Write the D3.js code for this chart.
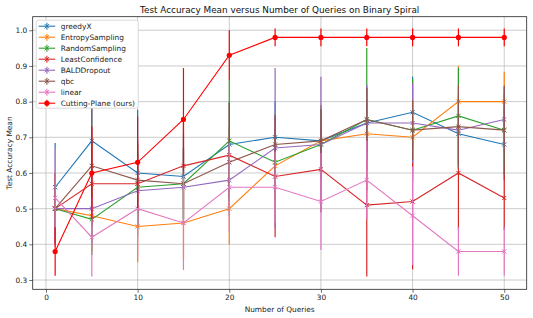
<!DOCTYPE html>
<html>
<head>
<meta charset="utf-8">
<script src="https://cdn.jsdelivr.net/npm/d3@7"></script>
<style>
  body { margin: 0; background: #fff; }
  svg { font-family: "DejaVu Sans", sans-serif; }
</style>
</head>
<body>
<svg width="533" height="318"></svg>
<script>
const queries = [1, 5, 10, 15, 20, 25, 30, 35, 40, 45, 50];
const seriesNames = ["greedyX", "EntropySampling", "RandomSampling", "LeastConfidence",
  "BALDDropout", "qbc", "linear", "Cutting-Plane (ours)"];
const seriesColors = ["#1f77b4", "#ff7f0e", "#2ca02c", "#d62728", "#9467bd", "#8c564b", "#e377c2", "#ff0000"];

const greedyX = [0.56, 0.69, 0.60, 0.59, 0.68, 0.70, 0.69, 0.74, 0.77, 0.71, 0.68];
const greedyXStd = [0.124, 0.10, 0.177, 0.12, 0.12, 0.10, 0.10, 0.10, 0.10, 0.10, 0.10];
const entropy = [0.50, 0.48, 0.45, 0.46, 0.50, 0.62, 0.69, 0.71, 0.70, 0.80, 0.80];
const entropyStd = [0.10, 0.10, 0.10, 0.10, 0.10, 0.10, 0.10, 0.10, 0.10, 0.10, 0.084];
const random = [0.50, 0.47, 0.56, 0.57, 0.69, 0.63, 0.68, 0.75, 0.72, 0.76, 0.72];
const randomStd = [0.10, 0.10, 0.10, 0.10, 0.17, 0.10, 0.10, 0.20, 0.143, 0.135, 0.10];
const leastConf = [0.50, 0.57, 0.57, 0.62, 0.65, 0.59, 0.61, 0.51, 0.52, 0.60, 0.53];
const leastConfStd = [0.10, 0.12, 0.12, 0.12, 0.146, 0.17, 0.12, 0.20, 0.19, 0.16, 0.09];
const bald = [0.50, 0.50, 0.55, 0.56, 0.58, 0.67, 0.68, 0.74, 0.74, 0.72, 0.75];
const baldStd = [0.10, 0.10, 0.10, 0.10, 0.10, 0.224, 0.19, 0.107, 0.112, 0.10, 0.09];
const qbc = [0.50, 0.62, 0.58, 0.57, 0.63, 0.68, 0.69, 0.75, 0.72, 0.73, 0.72];
const qbcStd = [0.10, 0.166, 0.10, 0.10, 0.10, 0.083, 0.087, 0.088, 0.084, 0.117, 0.125];
const linear = [0.53, 0.42, 0.50, 0.46, 0.56, 0.56, 0.52, 0.58, 0.48, 0.38, 0.38];
const linearStd = [0.137, 0.11, 0.14, 0.132, 0.125, 0.10, 0.136, 0.11, 0.138, 0.068, 0.068];
const cutting = [0.38, 0.60, 0.63, 0.75, 0.93, 0.98, 0.98, 0.98, 0.98, 0.98, 0.98];
const cuttingStd = [0.068, 0.13, 0.128, 0.144, 0.07, 0.025, 0.025, 0.025, 0.025, 0.025, 0.025];

const yTicks = [0.3, 0.4, 0.5, 0.6, 0.7, 0.8, 0.9, 1.0];
const xTicks = [0, 10, 20, 30, 40, 50];

const allMeans = [greedyX, entropy, random, leastConf, bald, qbc, linear, cutting];
const allStds = [greedyXStd, entropyStd, randomStd, leastConfStd, baldStd, qbcStd, linearStd, cuttingStd];

const svg = d3.select('svg');
const margin = { top: 16.7, right: 6.3, bottom: 28.7, left: 32.7 };
const width = +svg.attr('width');
const height = +svg.attr('height');
const innerWidth = width - margin.left - margin.right;
const innerHeight = height - margin.top - margin.bottom;
const labelSize = 7.4;

const xScale = d3.scaleLinear().domain([-1.45, 52.45]).range([0, innerWidth]);
const yScale = d3.scaleLinear().domain([0.274, 1.038]).range([innerHeight, 0]);

const g = svg.append('g').attr('transform', `translate(${margin.left},${margin.top})`);

// axes
const xAxisG = g.append('g')
  .attr('transform', `translate(0,${innerHeight})`)
  .call(d3.axisBottom(xScale).tickValues(xTicks).tickSize(3.5).tickPadding(2));
const yAxisG = g.append('g')
  .call(d3.axisLeft(yScale).tickValues(yTicks).tickFormat(d3.format('.1f')).tickSize(3.5).tickPadding(2));
[xAxisG, yAxisG].forEach(ax => {
  ax.select('.domain').remove();
  ax.attr('font-family', 'DejaVu Sans');
  ax.selectAll('text').attr('font-size', labelSize).attr('fill', '#222');
  ax.selectAll('line').attr('stroke', '#333').attr('stroke-width', 0.7);
});

// grid
g.append('g').selectAll('line').data(xTicks).enter().append('line')
  .attr('x1', d => xScale(d)).attr('x2', d => xScale(d))
  .attr('y1', 0).attr('y2', innerHeight)
  .attr('stroke', '#b0b0b0').attr('stroke-width', 0.8).attr('opacity', 0.8);
g.append('g').selectAll('line').data(yTicks).enter().append('line')
  .attr('x1', 0).attr('x2', innerWidth)
  .attr('y1', d => yScale(d)).attr('y2', d => yScale(d))
  .attr('stroke', '#b0b0b0').attr('stroke-width', 0.8).attr('opacity', 0.8);

// series
const lineGen = d3.line().x(d => xScale(d.x)).y(d => yScale(d.y));
const xMark = 2.1;

allMeans.forEach((means, si) => {
  const color = seriesColors[si];
  const pts = queries.map((q, i) => ({ x: q, y: means[i], s: allStds[si][i] }));
  const sg = g.append('g');
  sg.selectAll('line.err').data(pts).enter().append('line')
    .attr('class', 'err')
    .attr('x1', d => xScale(d.x)).attr('x2', d => xScale(d.x))
    .attr('y1', d => yScale(d.y - d.s)).attr('y2', d => yScale(d.y + d.s))
    .attr('stroke', color).attr('stroke-width', 1.2);
  sg.append('path').datum(pts)
    .attr('d', lineGen)
    .attr('fill', 'none').attr('stroke', color).attr('stroke-width', 1.1);
  if (si === 7) {
    sg.selectAll('circle').data(pts).enter().append('circle')
      .attr('cx', d => xScale(d.x)).attr('cy', d => yScale(d.y))
      .attr('r', 2.6).attr('fill', color);
  } else {
    sg.selectAll('path.mk').data(pts).enter().append('path')
      .attr('class', 'mk')
      .attr('d', d => {
        const cx = xScale(d.x), cy = yScale(d.y);
        return `M${cx - xMark},${cy - xMark}L${cx + xMark},${cy + xMark}M${cx - xMark},${cy + xMark}L${cx + xMark},${cy - xMark}`;
      })
      .attr('stroke', color).attr('stroke-width', 1);
  }
});

// frame
g.append('rect').attr('x', 0).attr('y', 0).attr('width', innerWidth).attr('height', innerHeight)
  .attr('fill', 'none').attr('stroke', '#222').attr('stroke-width', 0.8);

// legend
const legendX = 3.5, legendY = 3.5;
g.append('rect').attr('x', legendX).attr('y', legendY).attr('width', 102).attr('height', 88).attr('rx', 2)
  .attr('fill', '#fff').attr('stroke', '#d0d0d0').attr('stroke-width', 0.8);
seriesNames.forEach((name, i) => {
  const y = legendY + 6 + i * 11;
  const color = seriesColors[i];
  const hx = legendX + 10.7;
  g.append('line').attr('x1', legendX + 2.5).attr('x2', legendX + 19).attr('y1', y).attr('y2', y)
    .attr('stroke', color).attr('stroke-width', 1.1);
  g.append('line').attr('x1', hx).attr('x2', hx).attr('y1', y - 3.5).attr('y2', y + 3.5)
    .attr('stroke', color).attr('stroke-width', 1.1);
  if (i === 7) {
    g.append('circle').attr('cx', hx).attr('cy', y).attr('r', 2.6).attr('fill', color);
  } else {
    g.append('path')
      .attr('d', `M${hx - xMark},${y - xMark}L${hx + xMark},${y + xMark}M${hx - xMark},${y + xMark}L${hx + xMark},${y - xMark}`)
      .attr('stroke', color).attr('stroke-width', 1);
  }
});
svg.append('g').selectAll('text').data(seriesNames).enter().append('text')
  .attr('x', margin.left + legendX + 24.5)
  .attr('y', (d, i) => margin.top + legendY + 6 + i * 11 + 2.6)
  .attr('font-size', labelSize).attr('fill', '#222').text(d => d);

// labels
svg.append('text').attr('x', margin.left + innerWidth / 2).attr('y', 13)
  .attr('text-anchor', 'middle').attr('font-size', 8.85).attr('fill', '#111')
  .text('Test Accuracy Mean versus Number of Queries on Binary Spiral');
svg.append('text').attr('x', margin.left + innerWidth / 2).attr('y', 311.5)
  .attr('text-anchor', 'middle').attr('font-size', labelSize).attr('fill', '#222')
  .text('Number of Queries');
svg.append('text')
  .attr('transform', `translate(11.5,${margin.top + innerHeight / 2}) rotate(-90)`)
  .attr('text-anchor', 'middle').attr('font-size', labelSize).attr('fill', '#222')
  .text('Test Accuracy Mean');
</script>
</body>
</html>
